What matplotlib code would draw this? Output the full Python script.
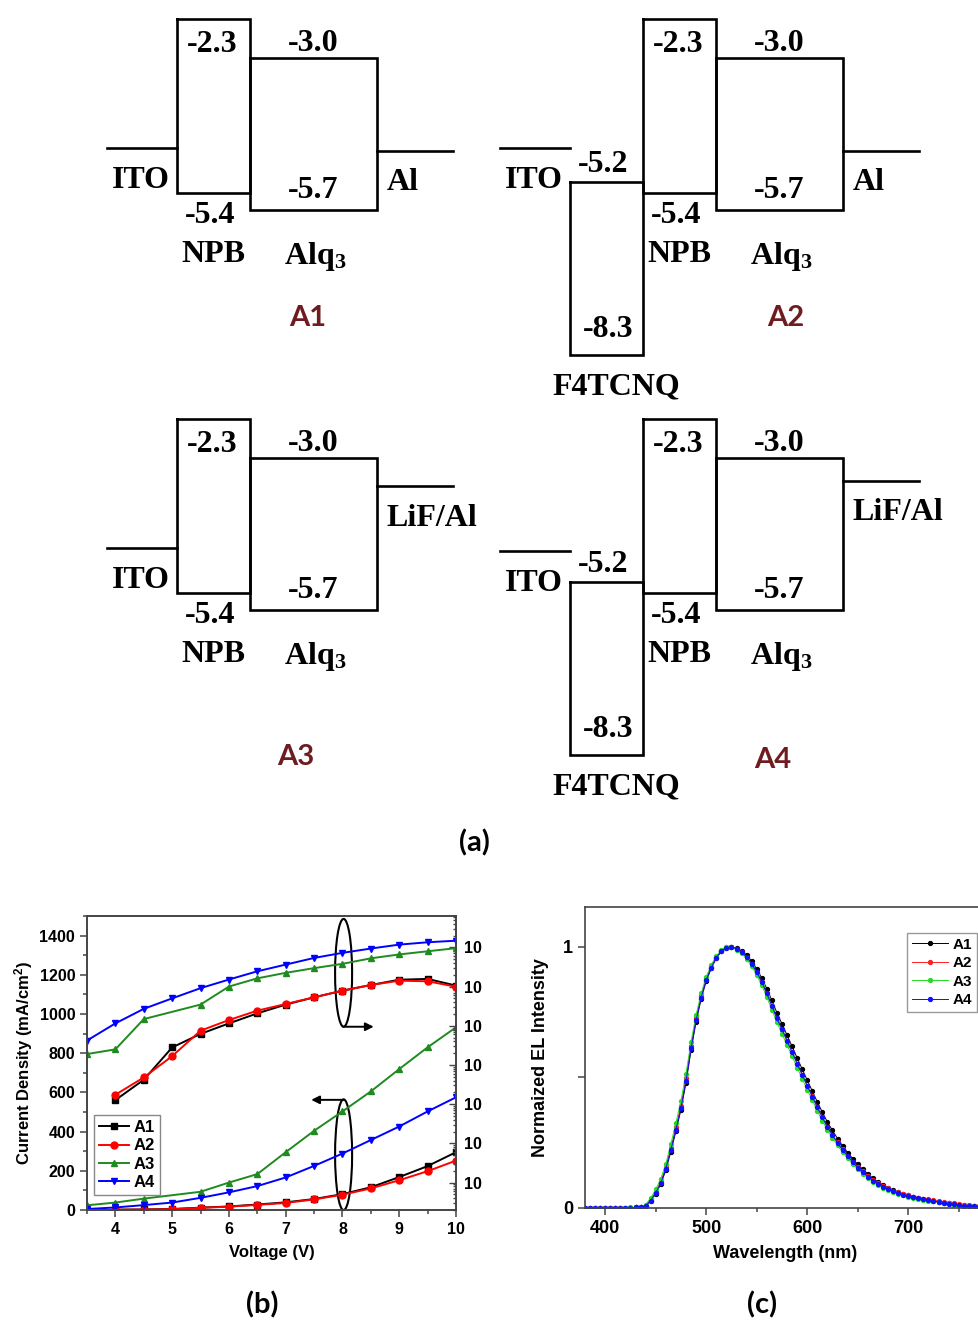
import numpy as np
import matplotlib.pyplot as plt
from matplotlib.patches import Ellipse
from matplotlib.ticker import MultipleLocator, LogLocator, FuncFormatter, NullFormatter

plt.rcParams['font.family'] = ['Liberation Sans', 'DejaVu Sans']
plt.rcParams['font.weight'] = 'bold'
plt.rcParams['axes.labelweight'] = 'bold'
plt.rcParams['mathtext.default'] = 'regular'

W, H = 979, 1322
PT = 0.72  # points per pixel at 100 dpi
SERIF = ['Liberation Serif', 'DejaVu Serif']
TITLE_FONT = ['Lato', 'DejaVu Sans']

# ---------------- (a) energy levels, eV ----------------
devices = ['A1', 'A2', 'A3', 'A4']
npb_levels = [-2.3, -5.4]
alq3_levels = [-3.0, -5.7]
f4tcnq_levels = [-5.2, -8.3]
ito_level = [-4.6, -4.6, -4.6, -4.65]
cathode_name = ['Al', 'Al', 'LiF/Al', 'LiF/Al']
cathode_level = [-4.65, -4.65, -3.5, -3.4]
uses_f4tcnq = [False, True, False, True]

# ---------------- (b) current density and luminance vs voltage ----------------
volt = [3.5, 4, 4.5, 5, 5.5, 6, 6.5, 7, 7.5, 8, 8.5, 9, 9.5, 10]
volt_a12 = [4, 4.5, 5, 5.5, 6, 6.5, 7, 7.5, 8, 8.5, 9, 9.5, 10]
volt_a3 = [3.5, 4, 4.5, 5.5, 6, 6.5, 7, 7.5, 8, 8.5, 9, 9.5, 10]

j_a1 = [2, 3, 5, 12, 18, 28, 39, 56, 81, 116, 168, 224, 295]
j_a2 = [1, 2, 4, 11, 17, 26, 36, 54, 78, 110, 152, 198, 252]
j_a3 = [24, 38, 58, 93, 140, 183, 295, 404, 503, 605, 719, 830, 932]
j_a4 = [5, 13, 25, 38, 62, 90, 122, 166, 225, 288, 357, 426, 503, 575]

lum_a1 = [1.27, 4.2, 28, 62, 115, 207, 347, 531, 785, 1096, 1496, 1567, 1059]
lum_a2 = [1.74, 4.8, 16.8, 75, 140, 243, 359, 531, 785, 1096, 1413, 1365, 990]
lum_a3 = [19, 25, 148, 347, 1000, 1620, 2240, 2950, 3800, 5250, 6600, 7940, 9550]
lum_a4 = [42, 115, 270, 500, 910, 1510, 2450, 3630, 5370, 7240, 9330, 11750, 13490, 14790]

# ---------------- (c) normalized EL spectra ----------------
wavelength = np.arange(380, 771, 5)
el_a1 = [0, 0, 0, 0, 0, 0, 0, 0,
         0.001, 0.001, 0.002, 0.003, 0.007, 0.026, 0.055, 0.091, 0.145, 0.216, 0.294, 0.377,
         0.480, 0.605, 0.714, 0.801, 0.869, 0.918, 0.957, 0.983, 0.996, 1.000, 0.995, 0.985,
         0.969, 0.946, 0.916, 0.881, 0.840, 0.795, 0.748, 0.705, 0.662, 0.619, 0.575, 0.532,
         0.490, 0.448, 0.406, 0.367, 0.329, 0.297, 0.266, 0.238, 0.212, 0.189, 0.167, 0.148,
         0.130, 0.114, 0.100, 0.088, 0.078, 0.069, 0.061, 0.054, 0.048, 0.043, 0.038, 0.034,
         0.030, 0.027, 0.024, 0.021, 0.018, 0.015, 0.012, 0.010, 0.008, 0.007, 0.006]
el_a2 = [0, 0, 0, 0, 0, 0, 0, 0,
         0.001, 0.001, 0.002, 0.004, 0.010, 0.031, 0.063, 0.101, 0.157, 0.230, 0.309, 0.392,
         0.497, 0.621, 0.727, 0.811, 0.877, 0.924, 0.961, 0.985, 0.998, 1.000, 0.993, 0.979,
         0.960, 0.934, 0.902, 0.864, 0.821, 0.774, 0.726, 0.683, 0.640, 0.597, 0.553, 0.511,
         0.469, 0.428, 0.387, 0.349, 0.311, 0.281, 0.251, 0.225, 0.200, 0.178, 0.158, 0.140,
         0.123, 0.108, 0.095, 0.084, 0.075, 0.067, 0.060, 0.054, 0.049, 0.044, 0.040, 0.036,
         0.033, 0.030, 0.027, 0.024, 0.021, 0.018, 0.015, 0.012, 0.010, 0.008, 0.007]
el_a3 = [0, 0, 0, 0, 0, 0, 0, 0,
         0.001, 0.002, 0.003, 0.005, 0.013, 0.037, 0.071, 0.111, 0.169, 0.245, 0.326, 0.410,
         0.515, 0.636, 0.740, 0.822, 0.886, 0.931, 0.966, 0.988, 0.999, 0.999, 0.990, 0.975,
         0.954, 0.926, 0.893, 0.853, 0.808, 0.760, 0.711, 0.668, 0.625, 0.581, 0.538, 0.496,
         0.453, 0.413, 0.372, 0.335, 0.298, 0.269, 0.240, 0.214, 0.190, 0.169, 0.149, 0.132,
         0.116, 0.101, 0.089, 0.078, 0.069, 0.061, 0.055, 0.049, 0.044, 0.039, 0.035, 0.031,
         0.028, 0.025, 0.022, 0.019, 0.016, 0.013, 0.011, 0.009, 0.007, 0.006, 0.005]
el_a4 = [0, 0, 0, 0, 0, 0, 0, 0,
         0.001, 0.001, 0.002, 0.003, 0.008, 0.028, 0.058, 0.095, 0.150, 0.222, 0.300, 0.383,
         0.487, 0.612, 0.720, 0.806, 0.873, 0.921, 0.959, 0.984, 0.997, 1.000, 0.993, 0.980,
         0.962, 0.936, 0.904, 0.866, 0.822, 0.775, 0.726, 0.684, 0.641, 0.597, 0.553, 0.511,
         0.468, 0.427, 0.385, 0.347, 0.309, 0.279, 0.249, 0.222, 0.198, 0.176, 0.155, 0.137,
         0.120, 0.105, 0.092, 0.081, 0.072, 0.064, 0.057, 0.051, 0.046, 0.041, 0.037, 0.033,
         0.030, 0.026, 0.023, 0.020, 0.017, 0.014, 0.011, 0.009, 0.007, 0.006, 0.005]

fig = plt.figure(figsize=(W / 100, H / 100), dpi=100)


# ================= (a) energy diagrams =================
def level_text(ax, x, y, s, dy, ha='center'):
    ax.annotate(s, (x, y), xytext=(0, dy * PT), textcoords='offset points',
                ha=ha, va='center', fontsize=23, family=SERIF, fontweight='bold')


def layer_box(ax, x, w, levels):
    top, bot = levels
    ax.plot([x, x, x + w, x + w, x], [top, bot, bot, top, top],
            color='k', lw=1.9, solid_joinstyle='miter')


def fmt(v):
    return f'{v:.1f}'


ITO_W, F4_W, NPB_W, ALQ_W, CATH_W = 70, 73, 73, 127, 76

rows = []
for top_px in (0, 400):
    ax = fig.add_axes([0, 1 - (top_px + 400) / H, 1, 400 / H])
    ax.set_xlim(0, W)
    ax.set_ylim(-9.1, -1.96)
    ax.axis('off')
    rows.append(ax)

for i, name in enumerate(devices):
    ax = rows[i // 2]
    x = [107, 500][i % 2]

    # anode
    ax.plot([x, x + ITO_W], [ito_level[i]] * 2, color='k', lw=1.9)
    level_text(ax, x + 5, ito_level[i], 'ITO', -33, ha='left')
    x += ITO_W

    # hole-injection layer
    if uses_f4tcnq[i]:
        layer_box(ax, x, F4_W, f4tcnq_levels)
        cx = x + F4_W / 2
        level_text(ax, cx - 3, f4tcnq_levels[0], fmt(f4tcnq_levels[0]), 17)
        level_text(ax, cx + 2, f4tcnq_levels[1], fmt(f4tcnq_levels[1]), 26)
        level_text(ax, cx + 10, f4tcnq_levels[1], 'F4TCNQ', -32)
        x += F4_W

    # NPB
    layer_box(ax, x, NPB_W, npb_levels)
    cx = x + NPB_W / 2
    level_text(ax, cx - 1, npb_levels[0], fmt(npb_levels[0]), -25)
    level_text(ax, cx - 3, npb_levels[1], fmt(npb_levels[1]), -23)
    level_text(ax, cx, npb_levels[1], 'NPB', -62)
    x += NPB_W

    # Alq3
    layer_box(ax, x, ALQ_W, alq3_levels)
    cx = x + ALQ_W / 2
    level_text(ax, cx, alq3_levels[0], fmt(alq3_levels[0]), 15)
    level_text(ax, cx, alq3_levels[1], fmt(alq3_levels[1]), 19)
    level_text(ax, cx + 2, npb_levels[1], r'Alq$_\mathregular{3}$', -64)
    x += ALQ_W

    # cathode
    ax.plot([x, x + CATH_W], [cathode_level[i]] * 2, color='k', lw=1.9)
    level_text(ax, x + 10, cathode_level[i], cathode_name[i], -32, ha='left')

label_pos = [(308, 318), (786, 318), (296, 757), (773, 760)]
for name, (px, py) in zip(devices, label_pos):
    fig.text(px / W, 1 - py / H, name, ha='center', va='center', fontsize=21,
             family=TITLE_FONT, fontweight='bold', color='#6e1c1f')

for s, (px, py) in zip(['(a)', '(b)', '(c)'], [(474, 843), (262, 1305), (762, 1305)]):
    fig.text(px / W, 1 - py / H, s, ha='center', va='center', fontsize=21,
             family=TITLE_FONT, fontweight='bold')

# ================= (b) J-V / L-V =================
SPINE = '#444444'
axb = fig.add_axes([87 / W, 1 - 1210 / H, 369 / W, 294 / H])
axr = axb.twinx()

colors_b = ['black', 'red', '#1f8a1f', 'blue']
markers_b = ['s', 'o', '^', 'v']
j_sets = [(volt_a12, j_a1), (volt_a12, j_a2), (volt_a3, j_a3), (volt, j_a4)]
lum_sets = [(volt_a12, lum_a1), (volt_a12, lum_a2), (volt_a3, lum_a3), (volt, lum_a4)]

handles = []
for k, name in enumerate(devices):
    vx, vy = j_sets[k]
    h, = axb.plot(vx, vy, color=colors_b[k], marker=markers_b[k], ms=5, lw=1.4, label=name)
    handles.append(h)
    lx, ly = lum_sets[k]
    axr.plot(lx, ly, color=colors_b[k], marker=markers_b[k], ms=5, lw=1.4)

axb.set_xlim(3.5, 10)
axb.set_ylim(0, 1500)
axb.xaxis.set_major_locator(MultipleLocator(1))
axb.xaxis.set_minor_locator(MultipleLocator(0.5))
axb.yaxis.set_major_locator(MultipleLocator(200))
axb.yaxis.set_minor_locator(MultipleLocator(100))
axb.tick_params(which='both', direction='out', top=False, right=False,
                labelsize=11.5, width=1.1, color=SPINE)
axb.tick_params(which='major', length=5)
axb.tick_params(which='minor', length=3)
axb.set_xlabel('Voltage (V)', fontsize=12, labelpad=6)
axb.set_ylabel('Current Density (mA/cm$^{2}$)', fontsize=12, labelpad=3)

axr.set_yscale('log')
axr.set_ylim(10 ** -2.7, 10 ** 4.8)
axr.yaxis.set_major_locator(LogLocator(base=10, numticks=20))
axr.yaxis.set_minor_locator(LogLocator(base=10, subs=np.arange(2, 10), numticks=20))
axr.yaxis.set_major_formatter(FuncFormatter(lambda v, p: '10'))
axr.yaxis.set_minor_formatter(NullFormatter())
axr.tick_params(which='both', direction='in', labelsize=11.5, width=1.0, color=SPINE, pad=6)
axr.tick_params(which='major', length=5)
axr.tick_params(which='minor', length=2.5)

for a in (axb, axr):
    for sp in a.spines.values():
        sp.set_color(SPINE)
        sp.set_linewidth(1.2)

# grouping ellipses with arrows to the axes
axb.add_patch(Ellipse((8.02, 1210), 0.3, 550, fill=False, lw=1.5, color='k'))
axb.add_patch(Ellipse((8.02, 282), 0.3, 565, fill=False, lw=1.5, color='k', clip_on=False))
axb.annotate('', xy=(8.55, 935), xytext=(8.02, 935),
             arrowprops=dict(arrowstyle='-|>', color='k', lw=1.4, mutation_scale=12,
                             shrinkA=0, shrinkB=0))
axb.annotate('', xy=(7.45, 562), xytext=(8.02, 562),
             arrowprops=dict(arrowstyle='-|>', color='k', lw=1.4, mutation_scale=12,
                             shrinkA=0, shrinkB=0))

axr.legend(handles, devices, loc='lower left', bbox_to_anchor=(94 / W, 1 - 1195 / H),
           bbox_transform=fig.transFigure, borderaxespad=0, fancybox=False,
           edgecolor='#888888', framealpha=1, fontsize=12, handlelength=1.8,
           handletextpad=0.3, borderpad=0.3, labelspacing=0.2)

# ================= (c) EL spectra =================
axc = fig.add_axes([585 / W, 1 - 1208 / H, 400 / W, 301 / H])
colors_c = ['black', '#ff2020', '#22dd22', '#1010ff']
for name, el, c in zip(devices, [el_a1, el_a2, el_a3, el_a4], colors_c):
    axc.plot(wavelength, el, color=c, lw=0.7, marker='o', ms=2.8, mec=c, mfc=c, label=name)

axc.set_xlim(380, 776)
axc.set_ylim(0, 1.153)
axc.set_yticks([0, 0.5, 1])
axc.set_yticklabels(['0', '', '1'])
axc.xaxis.set_major_locator(MultipleLocator(100))
axc.xaxis.set_minor_locator(MultipleLocator(50))
axc.tick_params(which='both', direction='out', top=False, right=False,
                labelsize=13, width=1.1, color=SPINE)
axc.tick_params(which='major', length=5)
axc.tick_params(which='minor', length=3)
axc.set_xlabel('Wavelength (nm)', fontsize=13, labelpad=6)
axc.set_ylabel('Normaized EL Intensity', fontsize=13, labelpad=10)
for sp in axc.spines.values():
    sp.set_color(SPINE)
    sp.set_linewidth(1.2)

axc.legend(loc='upper right', bbox_to_anchor=(977 / W, 1 - 933 / H),
           bbox_transform=fig.transFigure, borderaxespad=0, fancybox=False,
           edgecolor='#999999', framealpha=1, fontsize=11, handlelength=2.4,
           handletextpad=0.3, borderpad=0.3, labelspacing=0.3)

fig.savefig('out.png', dpi=100)
